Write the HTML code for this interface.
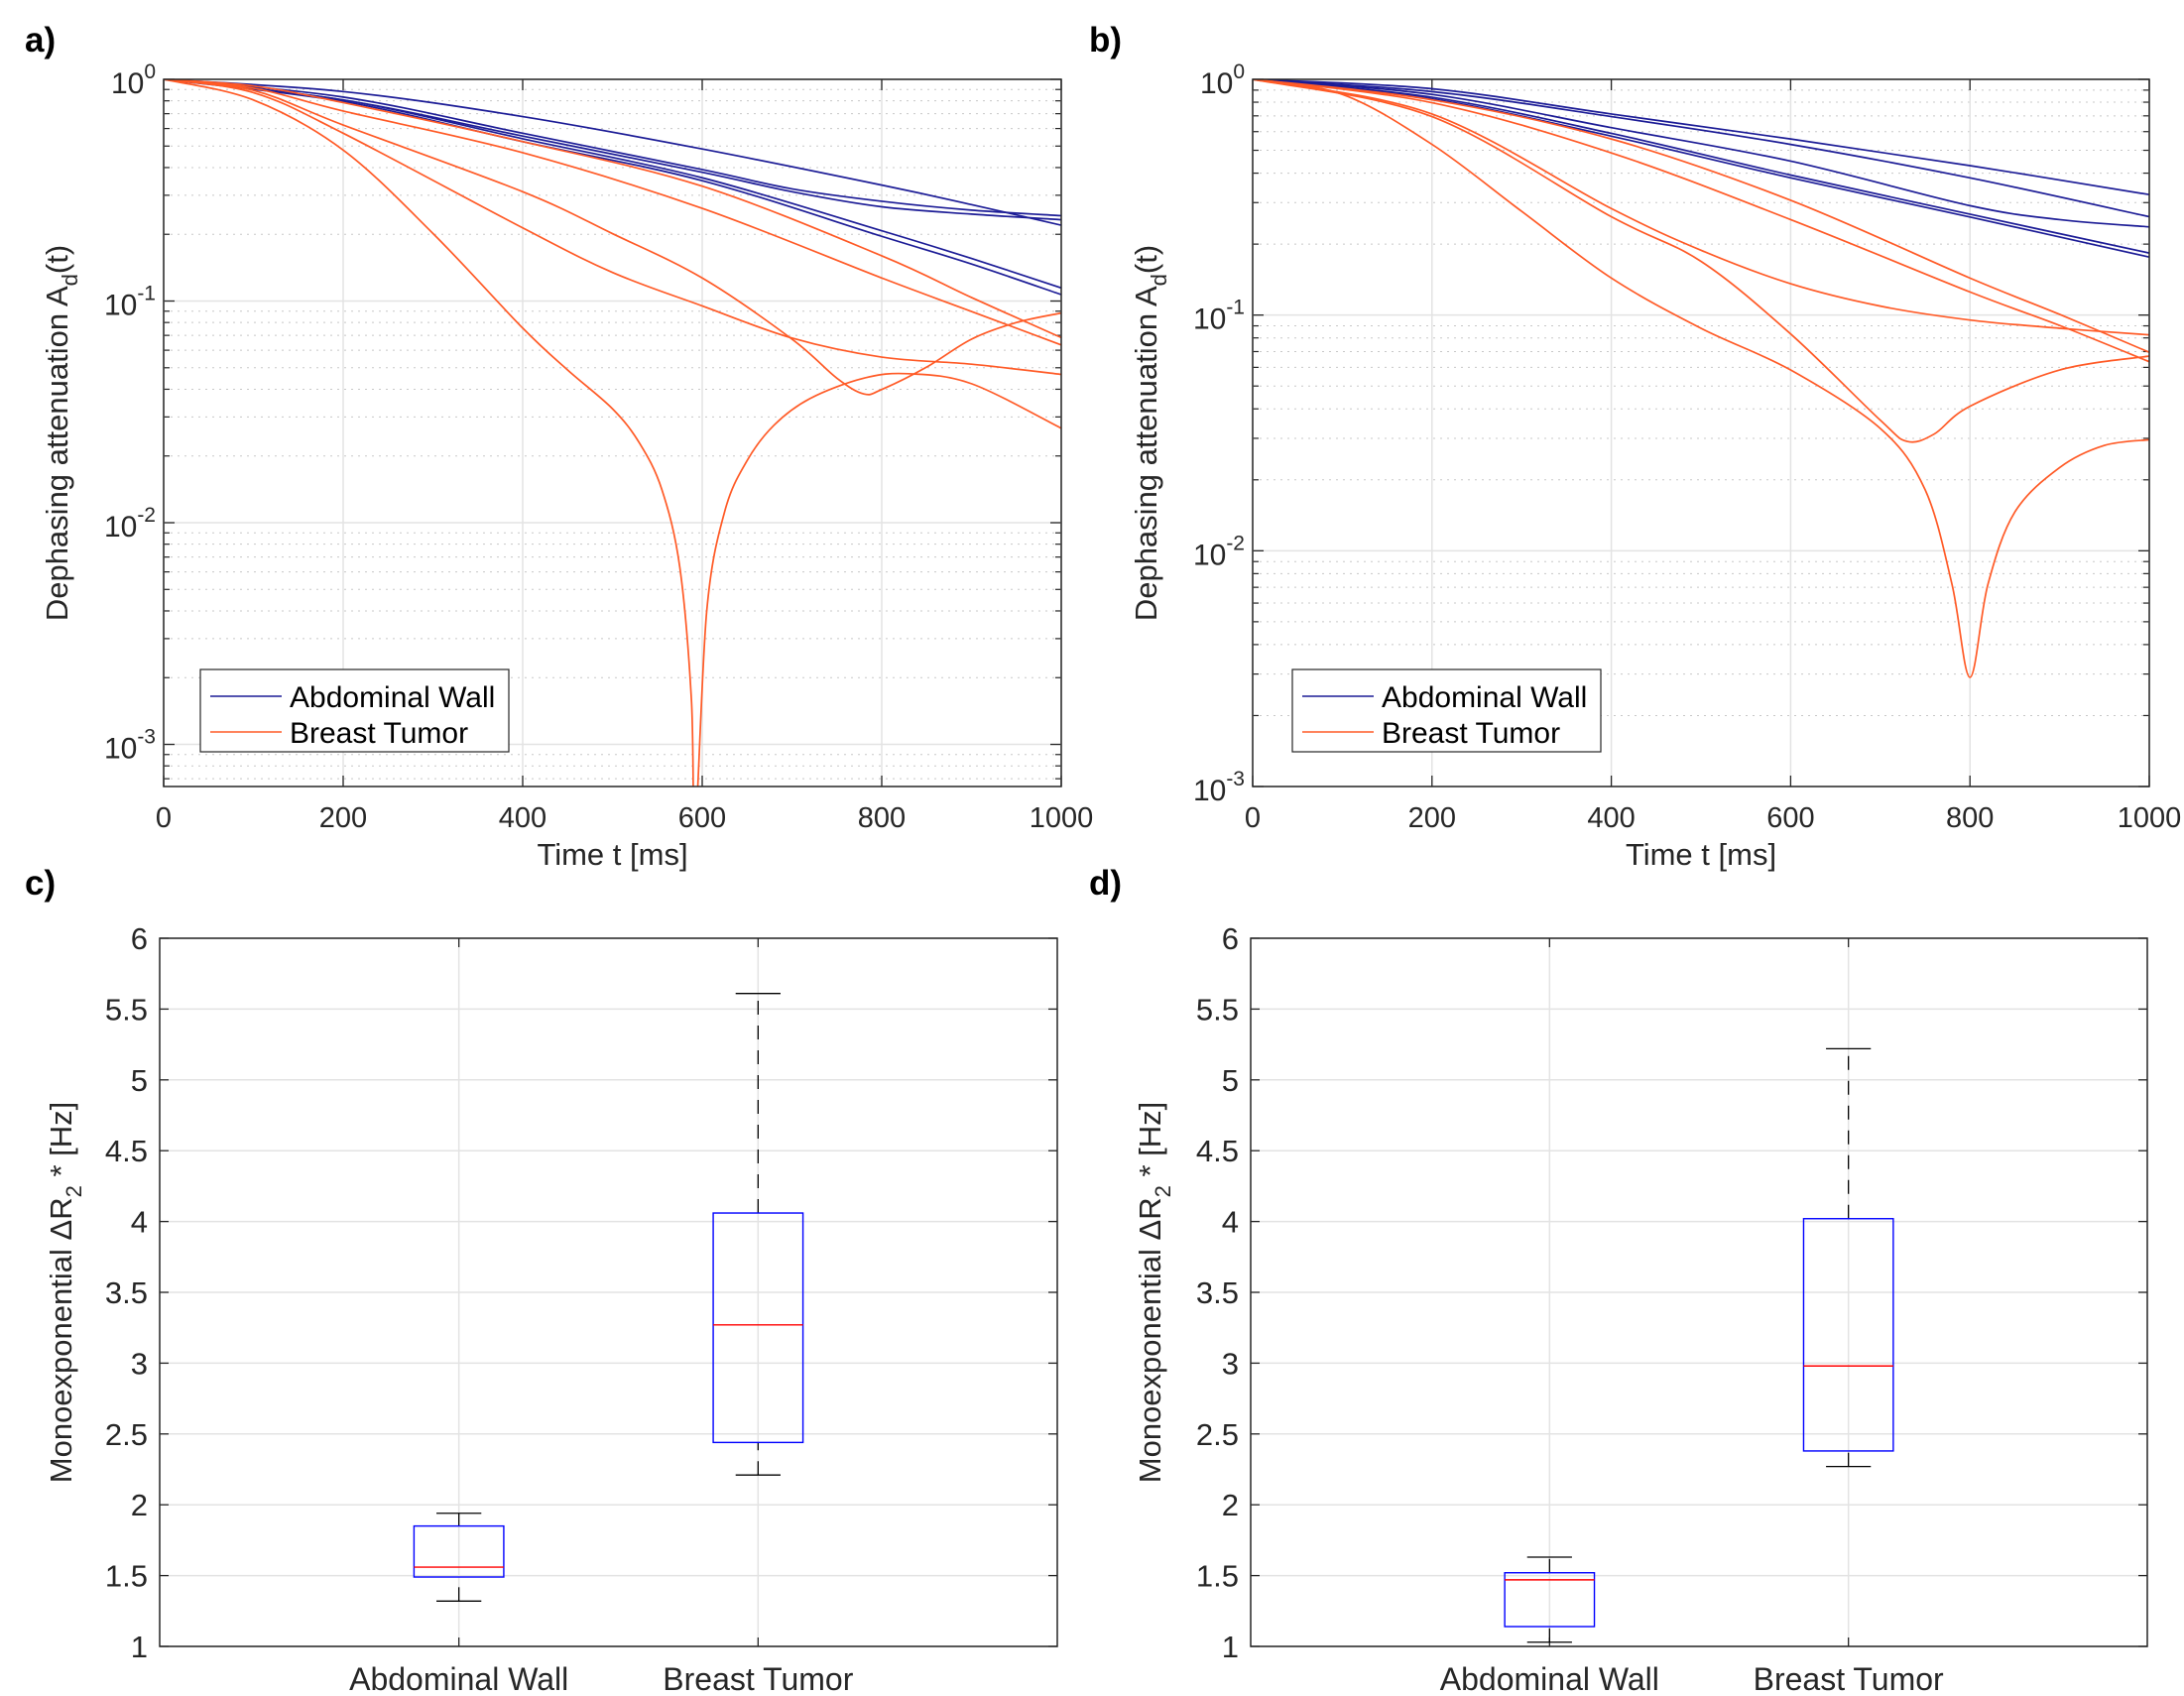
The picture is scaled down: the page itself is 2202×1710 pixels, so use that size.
<!DOCTYPE html>
<html><head><meta charset="utf-8"><style>
html,body{margin:0;padding:0;background:#fff;}
svg{display:block;font-family:"Liberation Sans",sans-serif;}
</style></head><body>
<svg id="fig" width="2202" height="1710" xmlns="http://www.w3.org/2000/svg"></svg>
<script>
// ---------- Panel a data (negated log10 of attenuation) ----------
const aT_B1=[0,200,400,600,800,900,1000], aB1=[0,0.055,0.168,0.314,0.477,0.565,0.658];
const aT_B2=[0,200,400,600,700,800,900,1000], aB2=[0,0.080,0.243,0.407,0.494,0.550,0.590,0.615];
const aB3=[0,0.093,0.256,0.419,0.507,0.575,0.608,0.633];
const aT_B4=[0,200,400,600,800,900,1000], aB4=[0,0.093,0.268,0.444,0.683,0.808,0.941];
const aB5=[0,0.100,0.281,0.457,0.708,0.833,0.971];
const aT_O1=[0,100,200,400,600,800,900,1000], aO1=[0,0.03,0.105,0.281,0.482,0.796,0.984,1.165];
const aO2=[0,0.04,0.143,0.331,0.582,0.896,1.047,1.198];
const aT_O3=[0,100,200,400,500,600,700,800,900,1000], aO3=[0,0.06,0.243,0.670,0.871,1.022,1.167,1.253,1.285,1.331];
const aT_O4=[0,100,200,400,500,600,700,750,780,800,850,900,950,1000], aO4=[0,0.05,0.206,0.507,0.696,0.896,1.172,1.348,1.419,1.399,1.298,1.172,1.097,1.054];
const aT_O5=[0,100,200,300,400,450,500,530,555,575,588,592,605,625,650,680,720,780,830,900,1000], aO5=[0,0.093,0.319,0.695,1.122,1.311,1.486,1.64,1.85,2.2,2.8,3.4,2.4,1.95,1.72,1.56,1.44,1.348,1.328,1.373,1.574];
// ---------- Panel b data ----------
const bT_B=[0,200,400,600,800,1000];
const bB1=[0,0.040,0.147,0.253,0.366,0.489];
const bB2=[0,0.052,0.158,0.276,0.418,0.583];
const bT_B3=[0,200,400,600,800,900,1000], bB3=[0,0.064,0.205,0.347,0.536,0.595,0.626];
const bB4=[0,0.076,0.229,0.406,0.572,0.737];
const bB5=[0,0.083,0.241,0.418,0.584,0.754];
const bT_O1=[0,200,400,600,800,900,1000], bO1=[0,0.087,0.253,0.513,0.843,0.997,1.158];
const bO2=[0,0.099,0.312,0.595,0.902,1.044,1.198];
const bT_O3=[0,200,400,500,600,700,800,900,1000], bO3=[0,0.147,0.548,0.725,0.867,0.962,1.021,1.056,1.084];
const bT_O4=[0,200,400,500,600,700,730,760,800,900,1000], bO4=[0,0.158,0.583,0.772,1.080,1.446,1.536,1.505,1.387,1.233,1.174];
const bT_O5=[0,100,200,300,400,500,600,700,750,780,800,820,850,900,950,1000], bO5=[0,0.064,0.276,0.560,0.843,1.056,1.233,1.481,1.741,2.143,2.537,2.143,1.836,1.647,1.553,1.529];
const xTicks=[0,200,400,600,800,1000];
// ---------- Box plot data ----------
const categories=["Abdominal Wall","Breast Tumor"];
const cWhiskLo=[1.32,2.21], cQ1=[1.49,2.44], cMed=[1.56,3.27], cQ3=[1.85,4.06], cWhiskHi=[1.94,5.61];
const dWhiskLo=[1.03,2.27], dQ1=[1.14,2.38], dMed=[1.47,2.98], dQ3=[1.52,4.02], dWhiskHi=[1.63,5.22];
const boxTicks=["1","1.5","2","2.5","3","3.5","4","4.5","5","5.5","6"];

const NS="http://www.w3.org/2000/svg";
const svg=document.getElementById('fig');
function el(tag,attrs,parent,text){const e=document.createElementNS(NS,tag);for(const k in attrs)e.setAttribute(k,attrs[k]);if(text!==undefined)e.textContent=text;(parent||svg).appendChild(e);return e;}
const BLUE="#1c1c96", ORANGE="#ff5a26";

function smoothPath(pts){
  let d="M"+pts[0][0].toFixed(2)+","+pts[0][1].toFixed(2);
  for(let i=0;i<pts.length-1;i++){
    const p0=pts[Math.max(0,i-1)],p1=pts[i],p2=pts[i+1],p3=pts[Math.min(pts.length-1,i+2)];
    const c1=[p1[0]+(p2[0]-p0[0])/6,p1[1]+(p2[1]-p0[1])/6];
    const c2=[p2[0]-(p3[0]-p1[0])/6,p2[1]-(p3[1]-p1[1])/6];
    d+=" C"+c1[0].toFixed(2)+","+c1[1].toFixed(2)+" "+c2[0].toFixed(2)+","+c2[1].toFixed(2)+" "+p2[0].toFixed(2)+","+p2[1].toFixed(2);
  }
  return d;
}

function labelText(parent,x,y,txt,size,anchor,name){
  const t=el('text',{x:x,y:y,'font-size':size,'text-anchor':anchor||'middle',fill:'#262626'},parent,txt);
  
  
  return t;
}

function logPanel(id,L,R,T,B,minExp,series,legX,legY,letter,ylabX){
  const g=el('g',{});
  
  
  const xs=t=>L+(t/1000)*(R-L);
  const ys=e=>T+(e/minExp)*(B-T);
  const clipId='clip'+id;
  const cp=el('clipPath',{id:clipId},g);el('rect',{x:L,y:T,width:R-L,height:B-T},cp);
  for(let dec=0;dec<Math.ceil(minExp);dec++){
    for(let m=2;m<=9;m++){
      const e=dec+1-Math.log10(m);
      if(e>minExp)continue;
      const y=ys(e);
      const ln=el('line',{x1:L,x2:R,y1:y,y2:y,stroke:'#c8c8c8','stroke-width':1,'stroke-dasharray':'2,5'},g);
      
      
      el('line',{x1:L,x2:L+6,y1:y,y2:y,stroke:'#262626','stroke-width':1.2},g);
      el('line',{x1:R,x2:R-6,y1:y,y2:y,stroke:'#262626','stroke-width':1.2},g);
    }
  }
  for(let dec=0;dec<=Math.floor(minExp);dec++){
    const y=ys(dec);
    const ln=el('line',{x1:L,x2:R,y1:y,y2:y,stroke:'#e3e3e3','stroke-width':1.5},g);
    
    
    el('line',{x1:L,x2:L+11,y1:y,y2:y,stroke:'#262626','stroke-width':1.3},g);
    el('line',{x1:R,x2:R-11,y1:y,y2:y,stroke:'#262626','stroke-width':1.3},g);
    const t=el('text',{x:L-8,y:y+14,'font-size':30,'text-anchor':'end',fill:'#262626'},g);
    
    
    el('tspan',{},t,'10');
    el('tspan',{dy:-15,'font-size':21},t,dec===0?'0':'-'+dec);
  }
  xTicks.forEach(v=>{
    const x=xs(v);
    const ln=el('line',{x1:x,x2:x,y1:T,y2:B,stroke:'#e3e3e3','stroke-width':1.5},g);
    
    
    el('line',{x1:x,x2:x,y1:B,y2:B-11,stroke:'#262626','stroke-width':1.3},g);
    el('line',{x1:x,x2:x,y1:T,y2:T+11,stroke:'#262626','stroke-width':1.3},g);
    labelText(g,x,B+41,String(v),29,'middle','x-tick-label');
  });
  const sg=el('g',{'clip-path':'url(#'+clipId+')'},g);
  series.forEach((s,i)=>{
    const pts=s.t.map((t,j)=>[xs(t),ys(s.v[j])]);
    const p=el('path',{d:smoothPath(pts),fill:'none',stroke:s.c,'stroke-width':1.7},sg);
    
    
  });
  const box=el('rect',{x:L,y:T,width:R-L,height:B-T,fill:'none',stroke:'#262626','stroke-width':1.5},g);
  
  
  labelText(g,(L+R)/2,872,'Time t [ms]',31,'middle','x-axis-title');
  const yl=el('text',{x:0,y:0,'font-size':31,'text-anchor':'middle',fill:'#262626',transform:'translate('+ylabX+','+((T+B)/2)+') rotate(-90)'},g);
  
  
  el('tspan',{},yl,'Dephasing attenuation A');
  el('tspan',{dy:10,'font-size':22},yl,'d');
  el('tspan',{dy:-10},yl,'(t)');
  const pl=el('text',{x:id==='a'?25:1098,y:52,'font-size':35,'font-weight':'bold',fill:'#000'},g,letter);
  
  
  const lg=el('g',{},g);
  
  
  el('rect',{x:legX,y:legY,width:311,height:83,fill:'#fff',stroke:'#262626','stroke-width':1.2},lg);
  const e1=el('g',{},lg);
  
  
  el('line',{x1:legX+10,x2:legX+82,y1:legY+27,y2:legY+27,stroke:BLUE,'stroke-width':1.6},e1);
  el('text',{x:legX+90,y:legY+38,'font-size':30,fill:'#000'},e1,'Abdominal Wall');
  const e2=el('g',{},lg);
  
  
  el('line',{x1:legX+10,x2:legX+82,y1:legY+63,y2:legY+63,stroke:ORANGE,'stroke-width':1.6},e2);
  el('text',{x:legX+90,y:legY+74,'font-size':30,fill:'#000'},e2,'Breast Tumor');
}

logPanel('a',165,1070,80,793,3.19,[
  {t:aT_B1,v:aB1,c:BLUE},{t:aT_B2,v:aB2,c:BLUE},{t:aT_B2,v:aB3,c:BLUE},{t:aT_B4,v:aB4,c:BLUE},{t:aT_B4,v:aB5,c:BLUE},
  {t:aT_O1,v:aO1,c:ORANGE},{t:aT_O1,v:aO2,c:ORANGE},{t:aT_O3,v:aO3,c:ORANGE},{t:aT_O4,v:aO4,c:ORANGE},{t:aT_O5,v:aO5,c:ORANGE}
],202,675,'a)',68);
logPanel('b',1263,2167,80,793,3,[
  {t:bT_B,v:bB1,c:BLUE},{t:bT_B,v:bB2,c:BLUE},{t:bT_B3,v:bB3,c:BLUE},{t:bT_B,v:bB4,c:BLUE},{t:bT_B,v:bB5,c:BLUE},
  {t:bT_O1,v:bO1,c:ORANGE},{t:bT_O1,v:bO2,c:ORANGE},{t:bT_O3,v:bO3,c:ORANGE},{t:bT_O4,v:bO4,c:ORANGE},{t:bT_O5,v:bO5,c:ORANGE}
],1303,675,'b)',1166);

function boxPanel(id,L,R,T,B,lo,q1,med,q3,hi,letter,letterX,ylabX){
  const g=el('g',{});
  
  
  const ys=v=>B-(v-1)/5*(B-T);
  const xs=c=>L+c/3*(R-L);
  boxTicks.forEach(s=>{
    const v=parseFloat(s),y=ys(v);
    const ln=el('line',{x1:L,x2:R,y1:y,y2:y,stroke:'#e3e3e3','stroke-width':1.5},g);
    
    
    el('line',{x1:L,x2:L+9,y1:y,y2:y,stroke:'#262626','stroke-width':1.3},g);
    el('line',{x1:R,x2:R-9,y1:y,y2:y,stroke:'#262626','stroke-width':1.3},g);
    labelText(g,L-12,y+11,s,31,'end','y-tick-label');
  });
  categories.forEach((c,i)=>{
    const x=xs(i+1);
    const ln=el('line',{x1:x,x2:x,y1:T,y2:B,stroke:'#e3e3e3','stroke-width':1.5},g);
    
    
    el('line',{x1:x,x2:x,y1:B,y2:B-9,stroke:'#262626','stroke-width':1.3},g);
    el('line',{x1:x,x2:x,y1:T,y2:T+9,stroke:'#262626','stroke-width':1.3},g);
    labelText(g,x,B+44,c,32,'middle','category-label');
    const hw=xs(i+1.15)-x, cw=xs(i+1.075)-x;
    const bx=el('g',{},g);
    
    
    el('line',{x1:x,x2:x,y1:ys(q3[i]),y2:ys(hi[i]),stroke:'#000','stroke-width':1.3,'stroke-dasharray':'14,11'},bx);
    el('line',{x1:x,x2:x,y1:ys(lo[i]),y2:ys(q1[i]),stroke:'#000','stroke-width':1.3,'stroke-dasharray':'14,11'},bx);
    el('line',{x1:x-cw,x2:x+cw,y1:ys(hi[i]),y2:ys(hi[i]),stroke:'#000','stroke-width':1.3},bx);
    el('line',{x1:x-cw,x2:x+cw,y1:ys(lo[i]),y2:ys(lo[i]),stroke:'#000','stroke-width':1.3},bx);
    el('rect',{x:x-hw,y:ys(q3[i]),width:2*hw,height:ys(q1[i])-ys(q3[i]),fill:'none',stroke:'#0000ff','stroke-width':1.4},bx);
    el('line',{x1:x-hw,x2:x+hw,y1:ys(med[i]),y2:ys(med[i]),stroke:'#ff0000','stroke-width':1.4},bx);
  });
  const box=el('rect',{x:L,y:T,width:R-L,height:B-T,fill:'none',stroke:'#262626','stroke-width':1.5},g);
  
  
  const yl=el('text',{x:0,y:0,'font-size':31,'text-anchor':'middle',fill:'#262626',transform:'translate('+ylabX+','+((T+B)/2)+') rotate(-90)'},g);
  
  
  el('tspan',{},yl,'Monoexponential  \u0394R');
  el('tspan',{dy:10,'font-size':22},yl,'2');
  el('tspan',{dy:-10},yl,' * [Hz]');
  const pl=el('text',{x:letterX,y:902,'font-size':35,'font-weight':'bold',fill:'#000'},g,letter);
  
  
}
boxPanel('c',161,1066,946,1660,cWhiskLo,cQ1,cMed,cQ3,cWhiskHi,'c)',25,72);
boxPanel('d',1261,2165,946,1660,dWhiskLo,dQ1,dMed,dQ3,dWhiskHi,'d)',1098,1170);
</script>
</body></html>
